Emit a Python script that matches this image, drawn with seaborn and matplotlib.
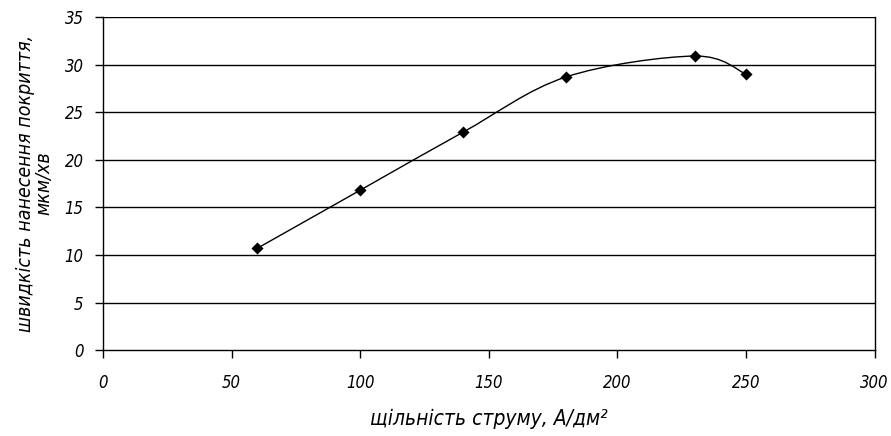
import numpy as np
import pandas as pd
import matplotlib
matplotlib.use("Agg")
import matplotlib.pyplot as plt
from matplotlib.path import Path
from matplotlib.patches import PathPatch
import seaborn as sb

# data
current_density = [60, 100, 140, 180, 230, 250]
deposition_rate = [10.7, 16.8, 22.9, 28.7, 30.9, 29.0]

x_ticks = [0, 50, 100, 150, 200, 250, 300]
y_ticks = [0, 5, 10, 15, 20, 25, 30, 35]

x_label = "щільність струму, А/дм²"
y_label = "швидкість нанесення покриття,\nмкм/хв"

sb.set_style("white")
plt.rcParams['font.family'] = ['DejaVu Sans']
plt.rcParams['font.style'] = 'italic'
plt.rcParams['font.stretch'] = 'condensed'
plt.rcParams['text.color'] = 'black'
plt.rcParams['axes.labelcolor'] = 'black'
plt.rcParams['xtick.color'] = 'black'
plt.rcParams['ytick.color'] = 'black'

df = pd.DataFrame({"x": current_density, "y": deposition_rate})

fig = plt.figure(figsize=(8.91, 4.36), dpi=100)
ax = fig.add_axes([0.1156, 0.197, 0.866, 0.764])

# smoothed line the way a spreadsheet draws it: bezier through the points
pts = df[["x", "y"]].to_numpy(dtype=float)
n = len(pts)
verts = [pts[0]]
codes = [Path.MOVETO]
for i in range(n - 1):
	p0 = pts[i - 1] if i > 0 else pts[i]
	p1 = pts[i]
	p2 = pts[i + 1]
	p3 = pts[i + 2] if i + 2 < n else pts[i + 1]
	verts += [p1 + (p2 - p0) / 6.0, p2 - (p3 - p1) / 6.0, p2]
	codes += [Path.CURVE4] * 3
ax.add_patch(PathPatch(Path(verts, codes), facecolor='none', edgecolor='black', lw=1.0, zorder=3))

sb.scatterplot(data=df, x="x", y="y", marker="D", s=38, color="black",
	edgecolor="black", linewidth=0, ax=ax, zorder=4)

ax.set_xlim(0, 300)
ax.set_ylim(0, 35)
ax.set_xticks(x_ticks)
ax.set_yticks(y_ticks)

for yv in y_ticks[1:]:
	ax.axhline(yv, color='black', lw=1.0, zorder=1)

for side in ['left', 'right', 'bottom', 'top']:
	ax.spines[side].set_color('black')
	ax.spines[side].set_linewidth(1.0)
ax.spines['top'].set_visible(False)

ax.tick_params(axis='both', direction='out', length=6, width=1, color='black',
	labelsize=12, pad=8, bottom=True, left=True)
ax.tick_params(axis='x', pad=11)

ax.set_xlabel(x_label, fontsize=15, labelpad=12)
ax.set_ylabel(y_label, fontsize=14, labelpad=8, linespacing=0.95)

plt.savefig("out.png", dpi=100)
